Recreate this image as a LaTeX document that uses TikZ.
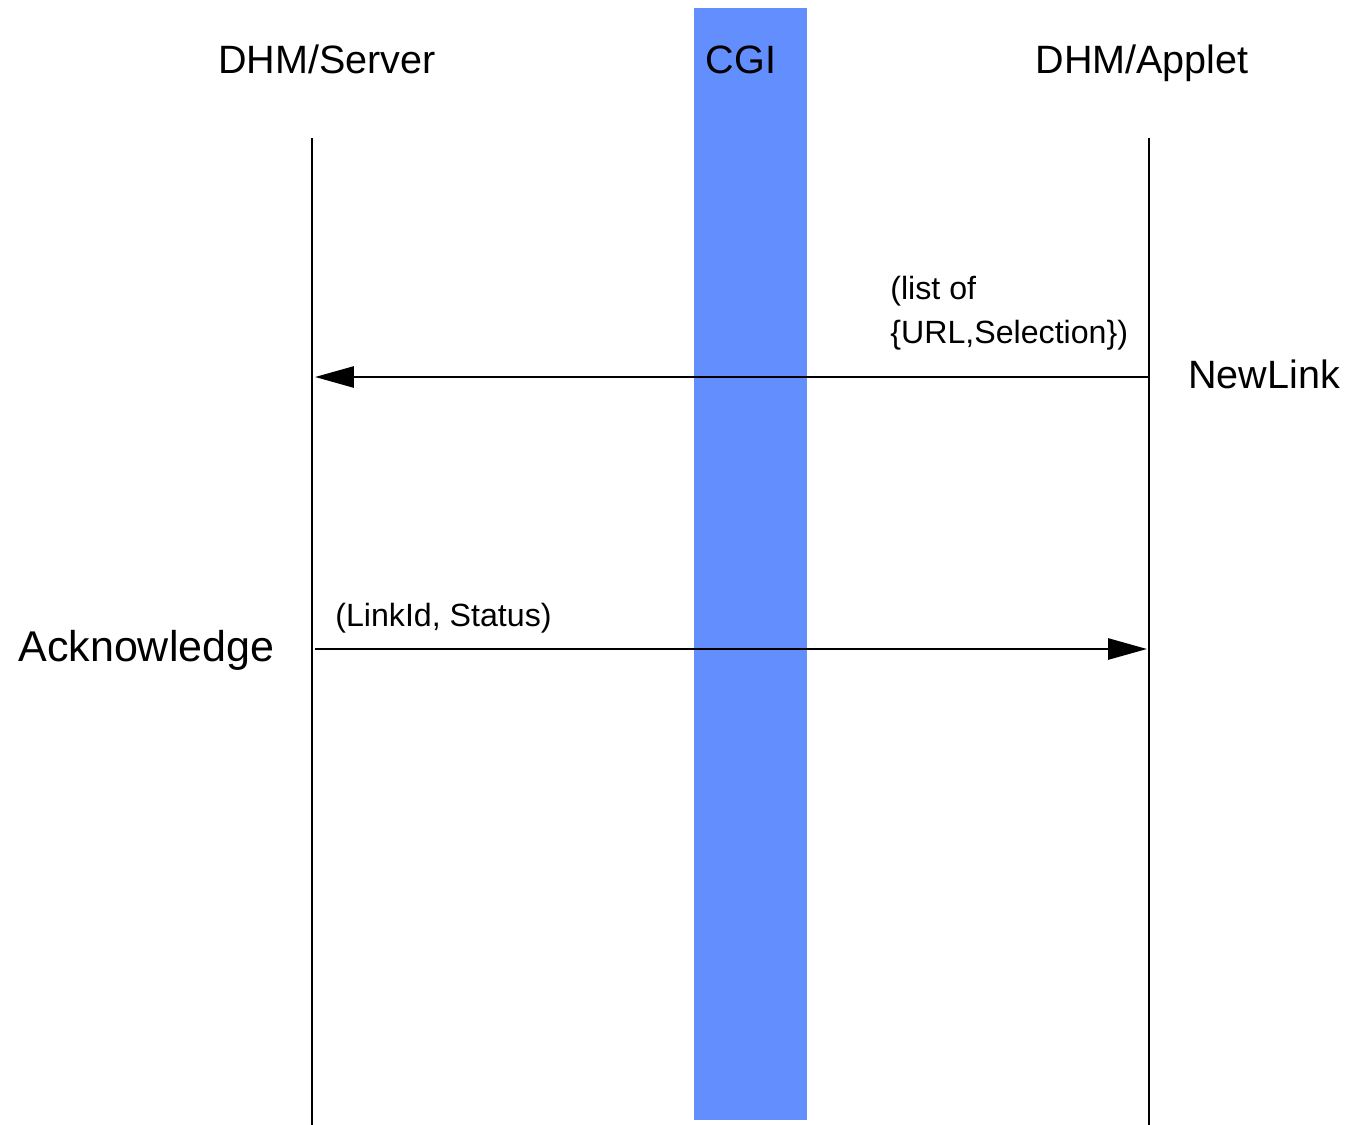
\documentclass[tikz,border=0pt]{standalone}
\usepackage{fontspec}
\setmainfont{Liberation Sans}
\usepackage{tikz}
\usetikzlibrary{positioning, arrows.meta}
\definecolor{cgiblue}{HTML}{628EFE}
\tikzset{
  actor/.style={
    font=\fontsize{22.5}{26}\selectfont,
    anchor=base, inner sep=0pt
  },
  callname/.style={
    font=\fontsize{22.5}{26}\selectfont,
    anchor=base west, inner sep=0pt
  },
  param/.style={
    font=\fontsize{18.3}{25}\selectfont,
    anchor=base west, inner sep=0pt
  },
  cgibar/.style={
    fill=cgiblue, draw=none,
    minimum width=2.26cm, minimum height=22.24cm,
    inner sep=0pt
  },
  lifeline/.style={line width=1.6pt},
  callarr/.style={-{Triangle[length=0.78cm, width=0.42cm]}, line width=1.6pt},
}
\begin{document}
\begin{tikzpicture}[x=0.02cm, y=-0.02cm]
    \useasboundingbox (0,0) rectangle (1345,1125);
    % CGI band
    \node[cgibar] (cgi) at (750.5,564) {};
    \node[actor] (cginame) at (741,74) {CGI};
    \node[actor] (server)  at (327,74) {DHM/Server};
    \node[actor] (applet)  at (1142,74) {DHM/Applet};
    % lifelines
    \coordinate (srvtop) at (312,138);
    \coordinate (srvbot) at (312,1125);
    \coordinate (apptop) at (1149,138);
    \coordinate (appbot) at (1149,1125);
    \draw[lifeline] (srvtop)--(srvbot);
    \draw[lifeline] (apptop)--(appbot);
    % NewLink
    \coordinate (nlfrom) at (1149,377);
    \coordinate (nlto)   at (315,377);
    \draw[callarr] (nlfrom)--(nlto);
    \node[callname] (newlink) at (1188,388) {NewLink};
    \node[param] (nlarg1) at (890,299) {(list of};
    \node[param] (nlarg2) at (890,343) {\{URL,Selection\})};
    % Acknowledge
    \coordinate (ackfrom) at (315,649);
    \coordinate (ackto)   at (1147,649);
    \draw[callarr] (ackfrom)--(ackto);
    \node[callname, font=\fontsize{24.5}{28}\selectfont] (ack) at (18,661) {Acknowledge};
    \node[param] (ackarg) at (335,626) {(LinkId, Status)};
\end{tikzpicture}
\end{document}
